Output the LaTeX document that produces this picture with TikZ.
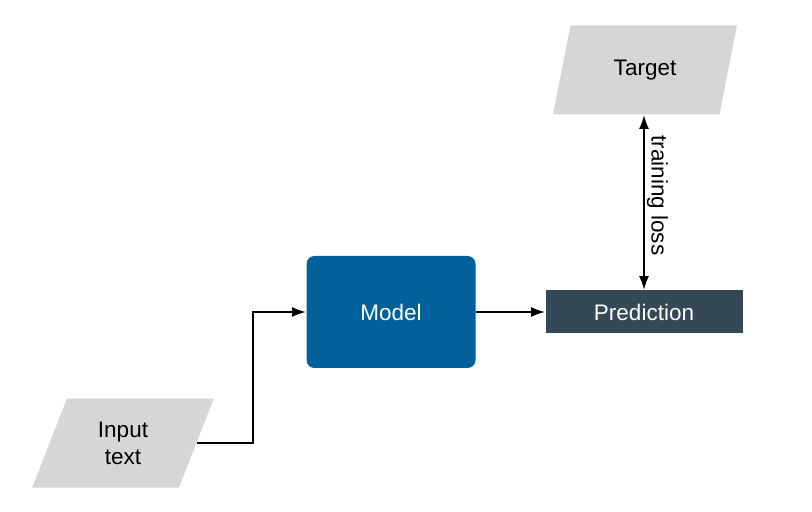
\documentclass[tikz,border=0pt]{standalone}
\usepackage{fontspec}
\setmainfont{Liberation Sans}
\usetikzlibrary{shapes.geometric, arrows.meta}

\definecolor{modelblue}{RGB}{1,98,155}
\definecolor{predslate}{RGB}{52,73,85}
\definecolor{datagrey}{RGB}{214,214,214}

\begin{document}
\begin{tikzpicture}[
    x=0.5pt, y=-0.5pt,
    every node/.style       = {font=\fontsize{11.25}{13.5}\selectfont, inner sep=0pt},
    datav/.style            = {trapezium, trapezium left angle=70, trapezium right angle=110,
                               trapezium stretches=true, fill=datagrey, minimum height=44.5pt, align=center},
    modelv/.style           = {rectangle, rounded corners=4pt, fill=modelblue, text=white,
                               minimum width=84.5pt, minimum height=56pt},
    predv/.style            = {rectangle, fill=predslate, text=white, minimum width=98.5pt, minimum height=21.5pt},
    flow/.style             = {line width=1pt, -{Latex[length=7pt,width=5pt]}},
    flowboth/.style         = {line width=1pt, {Latex[length=7pt,width=5pt]}-{Latex[length=7pt,width=5pt]}},
    lossl/.style            = {rotate=-90, anchor=south, inner sep=1pt}
    ]
      \useasboundingbox (0,0) rectangle (812,512);

      % nodes ----------------------------------------------------
      \node[datav,minimum width=91pt]  (in)     at (123,443)   {Input\\text};
      \node[modelv]                    (model)  at (391,312)   {Model};
      \node[predv]                     (pred)   at (644,312)   {Prediction};
      \node[datav,minimum width=92pt]  (target) at (645,70)    {Target};
      \coordinate (elbow) at (253,380);

      % edges ----------------------------------------------------
      \draw[flow] (in.east) -| (elbow) |- (model.west);
      \draw[flow] (model.east) -- (pred.west);
      \draw[flowboth] (target.south -| pred.north) -- node[lossl,pos=0.46] {training loss} (pred.north);
\end{tikzpicture}
\end{document}
